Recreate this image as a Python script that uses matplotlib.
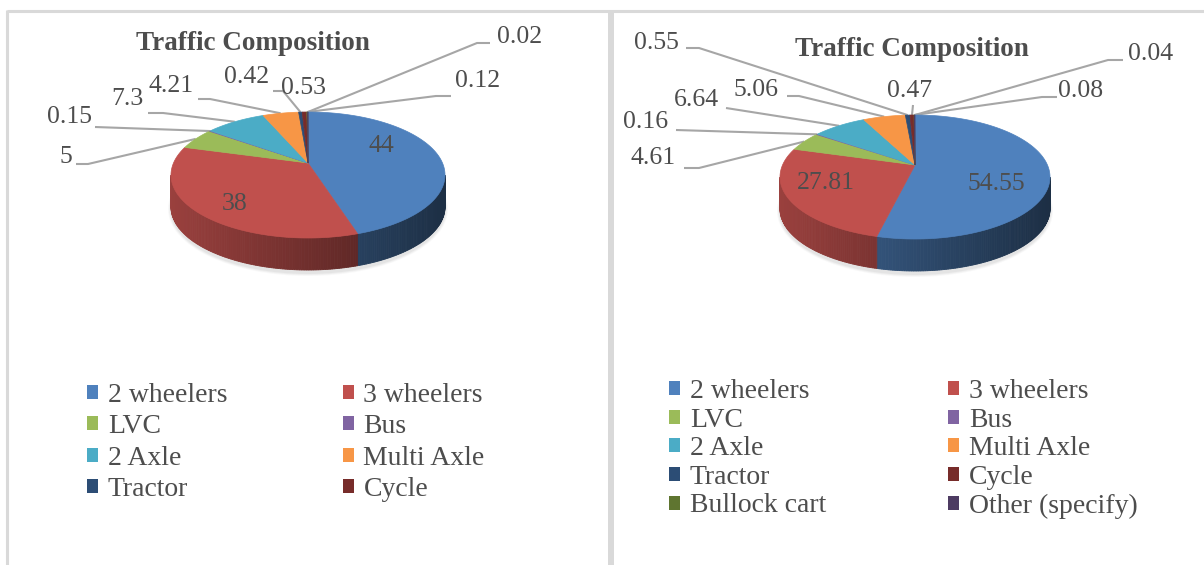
import numpy as np
import matplotlib.pyplot as plt
from matplotlib.patches import Polygon, Patch, Ellipse

plt.rcParams['font.family'] = ['Liberation Serif', 'DejaVu Serif']

categories = ['2 wheelers', '3 wheelers', 'LVC', 'Bus', '2 Axle', 'Multi Axle',
              'Tractor', 'Cycle', 'Bullock cart', 'Other (specify)']
share_left = [44, 38, 5, 0.15, 7.3, 4.21, 0.42, 0.53, 0.12, 0.02]
share_right = [54.55, 27.81, 4.61, 0.16, 6.64, 5.06, 0.55, 0.47, 0.08, 0.04]
n_legend_left = 8   # left chart legend only lists the first 8 classes

colors = ['#4F81BD', '#C0504D', '#9BBB59', '#8064A2', '#4BACC6', '#F79646',
          '#2C4D75', '#772C2A', '#5F7530', '#4D3B62']

# label layout (pixel positions of label centres, leader anchors, elbow length)
text_left = [(381, 146), (235, 204), (66, 157), (69, 117), (127, 99), (171, 86),
             (247, 77), (303, 88), (478, 81), (520, 37)]
anchor_left = [None, None, (76, 164), (95, 127), (148, 113), (198, 99),
               (273, 91), None, (451, 96), (490, 43)]
elbow_left = [0, 0, 12, 0, 15, 12, 10, 0, -15, -13]

text_right = [(996, 184), (826, 183), (653, 158), (646, 122), (696, 100), (756, 90),
              (656, 43), (910, 91), (1081, 91), (1151, 54)]
anchor_right = [None, None, (684, 168), (676, 130), (726, 108), (787, 96),
                (686, 48), (913, 105), (1057, 97), (1123, 60)]
elbow_right = [0, 0, 15, 0, 0, 12, 13, 0, -15, -15]

TXT = '#4d4d4d'
LINE = '#a6a6a6'


def draw_pie(ax, vals, cx, cy, a, b, d, lift):
    vals = np.asarray(vals, dtype=float)
    edges = np.concatenate([[0], np.cumsum(vals)]) / vals.sum() * 2 * np.pi
    apex = (cx, cy - lift)

    def rim(t):
        return cx + a * np.sin(t), cy - b * np.cos(t)

    # soft shadow under the disc
    for k, al in [(6, 0.05), (4, 0.07), (2, 0.09)]:
        ax.add_patch(Ellipse((cx, cy + d + 2), 2 * a + k, 2 * b + k + 2,
                             fc='#808080', ec='none', alpha=al, zorder=0.2))

    # side wall (front half only)
    for i in range(len(vals)):
        t0, t1 = max(edges[i], np.pi / 2), min(edges[i + 1], 1.5 * np.pi)
        if t1 <= t0:
            continue
        ts = np.linspace(t0, t1, max(2, int(np.degrees(t1 - t0)) + 2))
        base = np.array(plt.matplotlib.colors.to_rgb(colors[i]))
        for ta, tb in zip(ts[:-1], ts[1:]):
            tm = 0.5 * (ta + tb)
            f = 0.58 - 0.22 * np.sin(tm)
            xa, ya = rim(ta)
            xb, yb = rim(tb)
            ax.add_patch(Polygon([(xa, ya), (xb, yb), (xb, yb + d), (xa, ya + d)],
                                 closed=True, fc=base * f, ec=base * f, lw=0.6))

    # top face
    mids = []
    for i in range(len(vals)):
        ts = np.linspace(edges[i], edges[i + 1], max(2, int(np.degrees(edges[i + 1] - edges[i])) + 2))
        xs, ys = rim(ts)
        pts = [apex] + list(zip(xs, ys))
        ax.add_patch(Polygon(pts, closed=True, fc=colors[i], ec=colors[i], lw=0.5))
        mids.append(rim(0.5 * (edges[i] + edges[i + 1])))
    return mids


def add_labels(ax, vals, mids, text_pos, anchors, elbows):
    for v, m, tp, an, el in zip(vals, mids, text_pos, anchors, elbows):
        ax.text(tp[0], tp[1], f'{v:g}', ha='center', va='center',
                fontsize=18.5, color=TXT)
        if an is None:
            continue
        xs = [an[0], an[0] + el, m[0]]
        ys = [an[1], an[1], m[1]]
        ax.plot(xs, ys, color=LINE, lw=1.5, solid_capstyle='butt', zorder=0.5)


fig = plt.figure(figsize=(12.04, 5.65), dpi=100)
ax = fig.add_axes([0, 0, 1, 1])
ax.set_xlim(0, 1204)
ax.set_ylim(565, 0)
ax.axis('off')

# panel frames
ax.plot([7, 1204], [11, 11], color='#d9d9d9', lw=2.2, solid_capstyle='butt')
ax.plot([7, 7], [10, 565], color='#d9d9d9', lw=2.2, solid_capstyle='butt')
ax.plot([611, 611], [10, 565], color='#d9d9d9', lw=4.3, solid_capstyle='butt')

mids_l = draw_pie(ax, share_left, 308, 175, 137, 63, 32, 12)
add_labels(ax, share_left, mids_l, text_left, anchor_left, elbow_left)
mids_r = draw_pie(ax, share_right, 915, 177, 135, 62, 32, 12)
add_labels(ax, share_right, mids_r, text_right, anchor_right, elbow_right)

ax.text(253, 44, 'Traffic Composition', ha='center', va='center',
        fontsize=19.5, fontweight='bold', color=TXT)
ax.text(912, 50, 'Traffic Composition', ha='center', va='center',
        fontsize=19.5, fontweight='bold', color=TXT)


def make_legend(n, x, y, spacing, colsp):
    handles = [Patch(fc=colors[i], ec='none', label=categories[i]) for i in range(n)]
    # row-major order like the source: reorder for column-major filling
    order = list(range(0, n, 2)) + list(range(1, n, 2))
    leg = ax.legend([handles[i] for i in order], [categories[i] for i in order],
                    ncol=2, loc='upper left', bbox_to_anchor=(x, y),
                    bbox_transform=ax.transData, frameon=False, fontsize=20,
                    handlelength=0.4, handleheight=0.4, handletextpad=0.35,
                    labelspacing=spacing, columnspacing=colsp, borderpad=0,
                    borderaxespad=0, labelcolor=TXT)
    return leg


leg1 = make_legend(n_legend_left, 87, 383, 0.23, 4.15)
ax.add_artist(leg1)
leg2 = make_legend(len(categories), 669, 379, 0.13, 4.4)

fig.savefig('out.png', dpi=100)
